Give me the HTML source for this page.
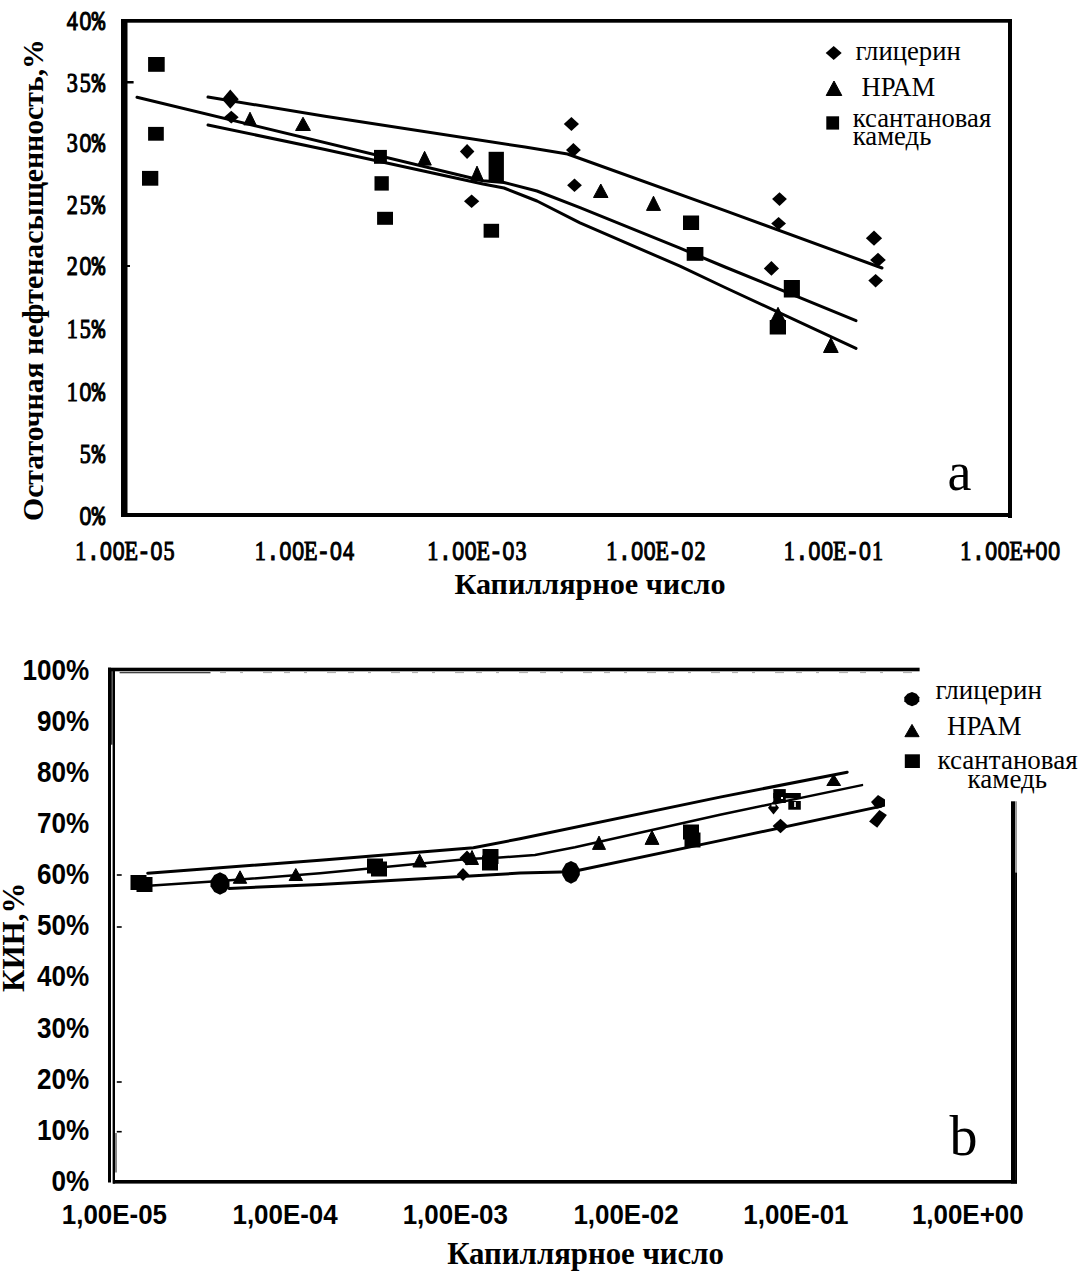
<!DOCTYPE html>
<html><head><meta charset="utf-8"><title>chart</title>
<style>html,body{margin:0;padding:0;background:#fff;} svg{display:block;} text{fill:#000;}</style>
</head><body>
<svg width="1082" height="1279" viewBox="0 0 1082 1279">
<rect width="1082" height="1279" fill="#fff"/>
<rect x="121" y="19" width="6.5" height="497.5" fill="#000"/>
<rect x="121" y="19" width="891" height="3.7" fill="#000"/>
<rect x="1008" y="19" width="4" height="499" fill="#000"/>
<rect x="121" y="513" width="891" height="4" fill="#000"/>
<rect x="127" y="81" width="6.6" height="2.5" fill="#000"/>
<rect x="127" y="265" width="3" height="2" fill="#000"/>
<text transform="translate(72.2,30.2) scale(0.82,1)" font-family="'Liberation Serif', serif" font-weight="normal" font-size="27" text-anchor="middle" stroke="#000" stroke-width="1.1">4</text>
<text transform="translate(85.3,30.2) scale(0.82,1)" font-family="'Liberation Sans', sans-serif" font-weight="normal" font-size="25.9" text-anchor="middle" stroke="#000" stroke-width="1.1">0</text>
<text transform="translate(98.5,30.2) scale(0.82,1)" font-family="'Liberation Mono', monospace" font-weight="normal" font-size="27" text-anchor="middle" stroke="#000" stroke-width="1.1">%</text>
<text transform="translate(72.2,91.5) scale(0.82,1)" font-family="'Liberation Serif', serif" font-weight="normal" font-size="27" text-anchor="middle" stroke="#000" stroke-width="1.1">3</text>
<text transform="translate(85.3,91.5) scale(0.82,1)" font-family="'Liberation Serif', serif" font-weight="normal" font-size="27" text-anchor="middle" stroke="#000" stroke-width="1.1">5</text>
<text transform="translate(98.5,91.5) scale(0.82,1)" font-family="'Liberation Mono', monospace" font-weight="normal" font-size="27" text-anchor="middle" stroke="#000" stroke-width="1.1">%</text>
<text transform="translate(72.2,152.3) scale(0.82,1)" font-family="'Liberation Serif', serif" font-weight="normal" font-size="27" text-anchor="middle" stroke="#000" stroke-width="1.1">3</text>
<text transform="translate(85.3,152.3) scale(0.82,1)" font-family="'Liberation Sans', sans-serif" font-weight="normal" font-size="25.9" text-anchor="middle" stroke="#000" stroke-width="1.1">0</text>
<text transform="translate(98.5,152.3) scale(0.82,1)" font-family="'Liberation Mono', monospace" font-weight="normal" font-size="27" text-anchor="middle" stroke="#000" stroke-width="1.1">%</text>
<text transform="translate(72.2,213.8) scale(0.82,1)" font-family="'Liberation Serif', serif" font-weight="normal" font-size="27" text-anchor="middle" stroke="#000" stroke-width="1.1">2</text>
<text transform="translate(85.3,213.8) scale(0.82,1)" font-family="'Liberation Serif', serif" font-weight="normal" font-size="27" text-anchor="middle" stroke="#000" stroke-width="1.1">5</text>
<text transform="translate(98.5,213.8) scale(0.82,1)" font-family="'Liberation Mono', monospace" font-weight="normal" font-size="27" text-anchor="middle" stroke="#000" stroke-width="1.1">%</text>
<text transform="translate(72.2,275.3) scale(0.82,1)" font-family="'Liberation Serif', serif" font-weight="normal" font-size="27" text-anchor="middle" stroke="#000" stroke-width="1.1">2</text>
<text transform="translate(85.3,275.3) scale(0.82,1)" font-family="'Liberation Sans', sans-serif" font-weight="normal" font-size="25.9" text-anchor="middle" stroke="#000" stroke-width="1.1">0</text>
<text transform="translate(98.5,275.3) scale(0.82,1)" font-family="'Liberation Mono', monospace" font-weight="normal" font-size="27" text-anchor="middle" stroke="#000" stroke-width="1.1">%</text>
<text transform="translate(72.2,337.7) scale(0.82,1)" font-family="'Liberation Serif', serif" font-weight="normal" font-size="27" text-anchor="middle" stroke="#000" stroke-width="1.1">1</text>
<text transform="translate(85.3,337.7) scale(0.82,1)" font-family="'Liberation Serif', serif" font-weight="normal" font-size="27" text-anchor="middle" stroke="#000" stroke-width="1.1">5</text>
<text transform="translate(98.5,337.7) scale(0.82,1)" font-family="'Liberation Mono', monospace" font-weight="normal" font-size="27" text-anchor="middle" stroke="#000" stroke-width="1.1">%</text>
<text transform="translate(72.2,400.5) scale(0.82,1)" font-family="'Liberation Serif', serif" font-weight="normal" font-size="27" text-anchor="middle" stroke="#000" stroke-width="1.1">1</text>
<text transform="translate(85.3,400.5) scale(0.82,1)" font-family="'Liberation Sans', sans-serif" font-weight="normal" font-size="25.9" text-anchor="middle" stroke="#000" stroke-width="1.1">0</text>
<text transform="translate(98.5,400.5) scale(0.82,1)" font-family="'Liberation Mono', monospace" font-weight="normal" font-size="27" text-anchor="middle" stroke="#000" stroke-width="1.1">%</text>
<text transform="translate(85.3,463.3) scale(0.82,1)" font-family="'Liberation Serif', serif" font-weight="normal" font-size="27" text-anchor="middle" stroke="#000" stroke-width="1.1">5</text>
<text transform="translate(98.4,463.3) scale(0.82,1)" font-family="'Liberation Mono', monospace" font-weight="normal" font-size="27" text-anchor="middle" stroke="#000" stroke-width="1.1">%</text>
<text transform="translate(85.3,524.8) scale(0.82,1)" font-family="'Liberation Sans', sans-serif" font-weight="normal" font-size="25.9" text-anchor="middle" stroke="#000" stroke-width="1.1">0</text>
<text transform="translate(98.4,524.8) scale(0.82,1)" font-family="'Liberation Mono', monospace" font-weight="normal" font-size="27" text-anchor="middle" stroke="#000" stroke-width="1.1">%</text>
<text transform="translate(80.8,560) scale(0.82,1)" font-family="'Liberation Serif', serif" font-weight="normal" font-size="27" text-anchor="middle" stroke="#000" stroke-width="1.1">1</text>
<text transform="translate(93.4,560) scale(0.82,1)" font-family="'Liberation Mono', monospace" font-weight="normal" font-size="27" text-anchor="middle" stroke="#000" stroke-width="1.1">.</text>
<text transform="translate(106,560) scale(0.82,1)" font-family="'Liberation Sans', sans-serif" font-weight="normal" font-size="25.9" text-anchor="middle" stroke="#000" stroke-width="1.1">0</text>
<text transform="translate(118.6,560) scale(0.82,1)" font-family="'Liberation Sans', sans-serif" font-weight="normal" font-size="25.9" text-anchor="middle" stroke="#000" stroke-width="1.1">0</text>
<text transform="translate(131.2,560) scale(0.82,1)" font-family="'Liberation Serif', serif" font-weight="normal" font-size="27" text-anchor="middle" stroke="#000" stroke-width="1.1">E</text>
<text transform="translate(143.8,560) scale(0.82,1)" font-family="'Liberation Mono', monospace" font-weight="normal" font-size="27" text-anchor="middle" stroke="#000" stroke-width="1.1">-</text>
<text transform="translate(156.4,560) scale(0.82,1)" font-family="'Liberation Sans', sans-serif" font-weight="normal" font-size="25.9" text-anchor="middle" stroke="#000" stroke-width="1.1">0</text>
<text transform="translate(169,560) scale(0.82,1)" font-family="'Liberation Serif', serif" font-weight="normal" font-size="27" text-anchor="middle" stroke="#000" stroke-width="1.1">5</text>
<text transform="translate(260.3,560) scale(0.82,1)" font-family="'Liberation Serif', serif" font-weight="normal" font-size="27" text-anchor="middle" stroke="#000" stroke-width="1.1">1</text>
<text transform="translate(272.9,560) scale(0.82,1)" font-family="'Liberation Mono', monospace" font-weight="normal" font-size="27" text-anchor="middle" stroke="#000" stroke-width="1.1">.</text>
<text transform="translate(285.5,560) scale(0.82,1)" font-family="'Liberation Sans', sans-serif" font-weight="normal" font-size="25.9" text-anchor="middle" stroke="#000" stroke-width="1.1">0</text>
<text transform="translate(298.1,560) scale(0.82,1)" font-family="'Liberation Sans', sans-serif" font-weight="normal" font-size="25.9" text-anchor="middle" stroke="#000" stroke-width="1.1">0</text>
<text transform="translate(310.7,560) scale(0.82,1)" font-family="'Liberation Serif', serif" font-weight="normal" font-size="27" text-anchor="middle" stroke="#000" stroke-width="1.1">E</text>
<text transform="translate(323.3,560) scale(0.82,1)" font-family="'Liberation Mono', monospace" font-weight="normal" font-size="27" text-anchor="middle" stroke="#000" stroke-width="1.1">-</text>
<text transform="translate(335.9,560) scale(0.82,1)" font-family="'Liberation Sans', sans-serif" font-weight="normal" font-size="25.9" text-anchor="middle" stroke="#000" stroke-width="1.1">0</text>
<text transform="translate(348.5,560) scale(0.82,1)" font-family="'Liberation Serif', serif" font-weight="normal" font-size="27" text-anchor="middle" stroke="#000" stroke-width="1.1">4</text>
<text transform="translate(432.9,560) scale(0.82,1)" font-family="'Liberation Serif', serif" font-weight="normal" font-size="27" text-anchor="middle" stroke="#000" stroke-width="1.1">1</text>
<text transform="translate(445.5,560) scale(0.82,1)" font-family="'Liberation Mono', monospace" font-weight="normal" font-size="27" text-anchor="middle" stroke="#000" stroke-width="1.1">.</text>
<text transform="translate(458.1,560) scale(0.82,1)" font-family="'Liberation Sans', sans-serif" font-weight="normal" font-size="25.9" text-anchor="middle" stroke="#000" stroke-width="1.1">0</text>
<text transform="translate(470.7,560) scale(0.82,1)" font-family="'Liberation Sans', sans-serif" font-weight="normal" font-size="25.9" text-anchor="middle" stroke="#000" stroke-width="1.1">0</text>
<text transform="translate(483.3,560) scale(0.82,1)" font-family="'Liberation Serif', serif" font-weight="normal" font-size="27" text-anchor="middle" stroke="#000" stroke-width="1.1">E</text>
<text transform="translate(495.9,560) scale(0.82,1)" font-family="'Liberation Mono', monospace" font-weight="normal" font-size="27" text-anchor="middle" stroke="#000" stroke-width="1.1">-</text>
<text transform="translate(508.5,560) scale(0.82,1)" font-family="'Liberation Sans', sans-serif" font-weight="normal" font-size="25.9" text-anchor="middle" stroke="#000" stroke-width="1.1">0</text>
<text transform="translate(521.1,560) scale(0.82,1)" font-family="'Liberation Serif', serif" font-weight="normal" font-size="27" text-anchor="middle" stroke="#000" stroke-width="1.1">3</text>
<text transform="translate(611.9,560) scale(0.82,1)" font-family="'Liberation Serif', serif" font-weight="normal" font-size="27" text-anchor="middle" stroke="#000" stroke-width="1.1">1</text>
<text transform="translate(624.5,560) scale(0.82,1)" font-family="'Liberation Mono', monospace" font-weight="normal" font-size="27" text-anchor="middle" stroke="#000" stroke-width="1.1">.</text>
<text transform="translate(637.1,560) scale(0.82,1)" font-family="'Liberation Sans', sans-serif" font-weight="normal" font-size="25.9" text-anchor="middle" stroke="#000" stroke-width="1.1">0</text>
<text transform="translate(649.7,560) scale(0.82,1)" font-family="'Liberation Sans', sans-serif" font-weight="normal" font-size="25.9" text-anchor="middle" stroke="#000" stroke-width="1.1">0</text>
<text transform="translate(662.3,560) scale(0.82,1)" font-family="'Liberation Serif', serif" font-weight="normal" font-size="27" text-anchor="middle" stroke="#000" stroke-width="1.1">E</text>
<text transform="translate(674.9,560) scale(0.82,1)" font-family="'Liberation Mono', monospace" font-weight="normal" font-size="27" text-anchor="middle" stroke="#000" stroke-width="1.1">-</text>
<text transform="translate(687.5,560) scale(0.82,1)" font-family="'Liberation Sans', sans-serif" font-weight="normal" font-size="25.9" text-anchor="middle" stroke="#000" stroke-width="1.1">0</text>
<text transform="translate(700.1,560) scale(0.82,1)" font-family="'Liberation Serif', serif" font-weight="normal" font-size="27" text-anchor="middle" stroke="#000" stroke-width="1.1">2</text>
<text transform="translate(789.3,560) scale(0.82,1)" font-family="'Liberation Serif', serif" font-weight="normal" font-size="27" text-anchor="middle" stroke="#000" stroke-width="1.1">1</text>
<text transform="translate(801.9,560) scale(0.82,1)" font-family="'Liberation Mono', monospace" font-weight="normal" font-size="27" text-anchor="middle" stroke="#000" stroke-width="1.1">.</text>
<text transform="translate(814.5,560) scale(0.82,1)" font-family="'Liberation Sans', sans-serif" font-weight="normal" font-size="25.9" text-anchor="middle" stroke="#000" stroke-width="1.1">0</text>
<text transform="translate(827.1,560) scale(0.82,1)" font-family="'Liberation Sans', sans-serif" font-weight="normal" font-size="25.9" text-anchor="middle" stroke="#000" stroke-width="1.1">0</text>
<text transform="translate(839.7,560) scale(0.82,1)" font-family="'Liberation Serif', serif" font-weight="normal" font-size="27" text-anchor="middle" stroke="#000" stroke-width="1.1">E</text>
<text transform="translate(852.3,560) scale(0.82,1)" font-family="'Liberation Mono', monospace" font-weight="normal" font-size="27" text-anchor="middle" stroke="#000" stroke-width="1.1">-</text>
<text transform="translate(864.9,560) scale(0.82,1)" font-family="'Liberation Sans', sans-serif" font-weight="normal" font-size="25.9" text-anchor="middle" stroke="#000" stroke-width="1.1">0</text>
<text transform="translate(877.5,560) scale(0.82,1)" font-family="'Liberation Serif', serif" font-weight="normal" font-size="27" text-anchor="middle" stroke="#000" stroke-width="1.1">1</text>
<text transform="translate(965.9,560) scale(0.82,1)" font-family="'Liberation Serif', serif" font-weight="normal" font-size="27" text-anchor="middle" stroke="#000" stroke-width="1.1">1</text>
<text transform="translate(978.5,560) scale(0.82,1)" font-family="'Liberation Mono', monospace" font-weight="normal" font-size="27" text-anchor="middle" stroke="#000" stroke-width="1.1">.</text>
<text transform="translate(991.1,560) scale(0.82,1)" font-family="'Liberation Sans', sans-serif" font-weight="normal" font-size="25.9" text-anchor="middle" stroke="#000" stroke-width="1.1">0</text>
<text transform="translate(1003.7,560) scale(0.82,1)" font-family="'Liberation Sans', sans-serif" font-weight="normal" font-size="25.9" text-anchor="middle" stroke="#000" stroke-width="1.1">0</text>
<text transform="translate(1016.3,560) scale(0.82,1)" font-family="'Liberation Serif', serif" font-weight="normal" font-size="27" text-anchor="middle" stroke="#000" stroke-width="1.1">E</text>
<text transform="translate(1028.9,560) scale(0.82,1)" font-family="'Liberation Mono', monospace" font-weight="normal" font-size="27" text-anchor="middle" stroke="#000" stroke-width="1.1">+</text>
<text transform="translate(1041.5,560) scale(0.82,1)" font-family="'Liberation Sans', sans-serif" font-weight="normal" font-size="25.9" text-anchor="middle" stroke="#000" stroke-width="1.1">0</text>
<text transform="translate(1054.1,560) scale(0.82,1)" font-family="'Liberation Sans', sans-serif" font-weight="normal" font-size="25.9" text-anchor="middle" stroke="#000" stroke-width="1.1">0</text>
<text transform="translate(454.4,594.2) scale(1.0,1)" font-family="'Liberation Serif', serif" font-weight="bold" font-size="30.2" text-anchor="start">Капиллярное число</text>
<text transform="translate(43,521) rotate(-90)" font-family="'Liberation Serif', serif" font-weight="bold" font-size="29.75">Остаточная нефтенасыщенность,%</text>
<polygon points="833.7,45.9 841.7,52.9 833.7,59.9 825.7,52.9" fill="#000"/>
<polygon points="834,81 841.8,95.5 826.2,95.5" fill="#000" stroke="#000" stroke-width="1" stroke-linejoin="round"/>
<rect x="826.3" y="116.3" width="12.8" height="13.3" fill="#000"/>
<text transform="translate(855.5,60.4) scale(1.0,1)" font-family="'Liberation Serif', serif" font-weight="normal" font-size="26.7" text-anchor="start">глицерин</text>
<text transform="translate(861.5,96) scale(1.0,1)" font-family="'Liberation Serif', serif" font-weight="normal" font-size="26.7" text-anchor="start">НРАМ</text>
<text transform="translate(852.8,127) scale(1.0,1)" font-family="'Liberation Serif', serif" font-weight="normal" font-size="26.7" text-anchor="start">ксантановая</text>
<text transform="translate(852.8,145) scale(1.0,1)" font-family="'Liberation Serif', serif" font-weight="normal" font-size="26.7" text-anchor="start">камедь</text>
<text transform="translate(947.4,490) scale(1.0,1)" font-family="'Liberation Serif', serif" font-weight="normal" font-size="54" text-anchor="start">a</text>
<polyline points="208,97 325,116.3 525,147.1 567.5,154 725,210.7 882,268" fill="none" stroke="#000" stroke-width="3" stroke-linejoin="round" stroke-linecap="round"/>
<polyline points="137,97.3 483,180.8 504,182.5 537,191 580,207.6 680,248.2 725,267 856,320.6" fill="none" stroke="#000" stroke-width="3" stroke-linejoin="round" stroke-linecap="round"/>
<polyline points="208,125 325,149.5 483,184 504,188 537,201 580,222.8 680,266.2 725,287.5 856,348.4" fill="none" stroke="#000" stroke-width="3" stroke-linejoin="round" stroke-linecap="round"/>
<rect x="148.1" y="57" width="16.6" height="14.8" fill="#000"/>
<rect x="148.1" y="126.9" width="15.7" height="13.8" fill="#000"/>
<rect x="142" y="170.9" width="16.3" height="14.8" fill="#000"/>
<rect x="374" y="149.9" width="12.9" height="13.9" fill="#000"/>
<rect x="374.5" y="176.2" width="14.3" height="14.4" fill="#000"/>
<rect x="377.1" y="211.8" width="15.9" height="13" fill="#000"/>
<rect x="488.6" y="151.8" width="15.3" height="29.5" fill="#000"/>
<rect x="483.6" y="223.8" width="15.5" height="13.9" fill="#000"/>
<rect x="683" y="215.5" width="16.1" height="14.5" fill="#000"/>
<rect x="686.7" y="247" width="16.7" height="13.8" fill="#000"/>
<rect x="783.8" y="280" width="16.1" height="17.5" fill="#000"/>
<rect x="769.7" y="320" width="16.3" height="14.5" fill="#000"/>
<polygon points="230.3,89.5 238.7,99.2 230.3,108.8 222,99.2" fill="#000"/>
<polygon points="231.3,110.8 238.7,117.2 231.3,123.5 223.9,117.2" fill="#000"/>
<polygon points="467.1,144 474.4,151.6 467.1,159.1 459.9,151.6" fill="#000"/>
<polygon points="471.6,194.6 479.3,201.3 471.6,208.1 464,201.3" fill="#000"/>
<polygon points="571.4,117 579,124 571.4,131 563.8,124" fill="#000"/>
<polygon points="573.4,142.9 580.8,149.9 573.4,157 566,149.9" fill="#000"/>
<polygon points="574.5,178.6 581.9,185.3 574.5,192 567.1,185.3" fill="#000"/>
<polygon points="779.5,192.2 786.9,199.1 779.5,206 772.1,199.1" fill="#000"/>
<polygon points="778.6,217.1 786,223.6 778.6,230 771.2,223.6" fill="#000"/>
<polygon points="771.4,261 779,268.4 771.4,275.7 763.8,268.4" fill="#000"/>
<polygon points="874,230.6 882.1,238.2 874,245.8 865.9,238.2" fill="#000"/>
<polygon points="878,252.8 885.8,259.9 878,267 870.1,259.9" fill="#000"/>
<polygon points="875.6,273.9 883,280.6 875.6,287.4 868.3,280.6" fill="#000"/>
<polygon points="250,112.2 256.1,124.9 243.8,124.9" fill="#000" stroke="#000" stroke-width="1" stroke-linejoin="round"/>
<polygon points="303,117.2 310.4,130.5 295.6,130.5" fill="#000" stroke="#000" stroke-width="1" stroke-linejoin="round"/>
<polygon points="424.6,151.3 431.3,165.1 417.9,165.1" fill="#000" stroke="#000" stroke-width="1" stroke-linejoin="round"/>
<polygon points="477,166.1 483.5,180.8 470.5,180.8" fill="#000" stroke="#000" stroke-width="1" stroke-linejoin="round"/>
<polygon points="600.8,184 608,197.5 593.5,197.5" fill="#000" stroke="#000" stroke-width="1" stroke-linejoin="round"/>
<polygon points="653.5,196.2 660.5,210.4 646.5,210.4" fill="#000" stroke="#000" stroke-width="1" stroke-linejoin="round"/>
<polygon points="830.9,337.8 838.2,352.5 823.5,352.5" fill="#000" stroke="#000" stroke-width="1" stroke-linejoin="round"/>
<polygon points="778,307.3 785.2,321.5 770.8,321.5" fill="#000" stroke="#000" stroke-width="1" stroke-linejoin="round"/>
<rect x="108" y="667.7" width="3" height="514.8" fill="#000"/>
<rect x="112.6" y="671" width="2.4" height="512.6" fill="#000"/>
<rect x="111" y="671" width="1.6" height="73.7" fill="#333"/>
<rect x="115" y="1133" width="2" height="39.5" fill="#888"/>
<rect x="108" y="667.7" width="811.6" height="3.6" fill="#000"/>
<rect x="119.6" y="672" width="90.9" height="1.3" fill="#444"/>
<line x1="220" y1="672.6" x2="919" y2="672.6" stroke="#aaa" stroke-width="1" stroke-dasharray="6 14 3 20 9 12"/>
<rect x="113" y="1180" width="904" height="3.6" fill="#000"/>
<rect x="1011" y="801.3" width="4.1" height="382.3" fill="#000"/>
<rect x="1015.1" y="801.3" width="1.9" height="71.2" fill="#999"/>
<rect x="1015.1" y="872.5" width="1.9" height="311.1" fill="#000"/>
<rect x="116.8" y="874.2" width="4.9" height="1.6" fill="#000"/>
<rect x="116.8" y="926.2" width="4.9" height="1.6" fill="#000"/>
<rect x="116.8" y="1081.2" width="4.9" height="1.6" fill="#000"/>
<rect x="116.8" y="1130.9" width="4.9" height="1.6" fill="#000"/>
<text transform="translate(89.2,679.8) scale(0.9,1)" font-family="'Liberation Sans', sans-serif" font-weight="bold" font-size="29" text-anchor="end">100%</text>
<text transform="translate(89.2,730.9) scale(0.9,1)" font-family="'Liberation Sans', sans-serif" font-weight="bold" font-size="29" text-anchor="end">90%</text>
<text transform="translate(89.2,782) scale(0.9,1)" font-family="'Liberation Sans', sans-serif" font-weight="bold" font-size="29" text-anchor="end">80%</text>
<text transform="translate(89.2,833.1) scale(0.9,1)" font-family="'Liberation Sans', sans-serif" font-weight="bold" font-size="29" text-anchor="end">70%</text>
<text transform="translate(89.2,884.2) scale(0.9,1)" font-family="'Liberation Sans', sans-serif" font-weight="bold" font-size="29" text-anchor="end">60%</text>
<text transform="translate(89.2,935.3) scale(0.9,1)" font-family="'Liberation Sans', sans-serif" font-weight="bold" font-size="29" text-anchor="end">50%</text>
<text transform="translate(89.2,986.4) scale(0.9,1)" font-family="'Liberation Sans', sans-serif" font-weight="bold" font-size="29" text-anchor="end">40%</text>
<text transform="translate(89.2,1037.5) scale(0.9,1)" font-family="'Liberation Sans', sans-serif" font-weight="bold" font-size="29" text-anchor="end">30%</text>
<text transform="translate(89.2,1088.6) scale(0.9,1)" font-family="'Liberation Sans', sans-serif" font-weight="bold" font-size="29" text-anchor="end">20%</text>
<text transform="translate(89.2,1139.7) scale(0.9,1)" font-family="'Liberation Sans', sans-serif" font-weight="bold" font-size="29" text-anchor="end">10%</text>
<text transform="translate(89.2,1190.8) scale(0.9,1)" font-family="'Liberation Sans', sans-serif" font-weight="bold" font-size="29" text-anchor="end">0%</text>
<text transform="translate(61.8,1224.3) scale(0.91,1)" font-family="'Liberation Sans', sans-serif" font-weight="bold" font-size="28.5" text-anchor="start">1,00E-05</text>
<text transform="translate(232.5,1224.3) scale(0.91,1)" font-family="'Liberation Sans', sans-serif" font-weight="bold" font-size="28.5" text-anchor="start">1,00E-04</text>
<text transform="translate(402.7,1224.3) scale(0.91,1)" font-family="'Liberation Sans', sans-serif" font-weight="bold" font-size="28.5" text-anchor="start">1,00E-03</text>
<text transform="translate(573.4,1224.3) scale(0.91,1)" font-family="'Liberation Sans', sans-serif" font-weight="bold" font-size="28.5" text-anchor="start">1,00E-02</text>
<text transform="translate(743.3,1224.3) scale(0.91,1)" font-family="'Liberation Sans', sans-serif" font-weight="bold" font-size="28.5" text-anchor="start">1,00E-01</text>
<text transform="translate(911.9,1224.3) scale(0.91,1)" font-family="'Liberation Sans', sans-serif" font-weight="bold" font-size="28.5" text-anchor="start">1,00E+00</text>
<text transform="translate(447.2,1263.8) scale(1.0,1)" font-family="'Liberation Serif', serif" font-weight="bold" font-size="30.8" text-anchor="start">Капиллярное число</text>
<text transform="translate(23.6,992) rotate(-90)" font-family="'Liberation Serif', serif" font-weight="bold" font-size="31">КИН,%</text>
<polygon points="912,692 916.5,693.7 919.3,697.3 919.3,701.3 916.5,704.6 912,706.2 907.5,704.6 904.3,701.3 904.3,697.3 907.5,693.7" fill="#000"/>
<polygon points="912,724.4 919.1,736.7 904.9,736.7" fill="#000" stroke="#000" stroke-width="1" stroke-linejoin="round"/>
<rect x="904.8" y="754.3" width="15.1" height="13.7" fill="#000"/>
<text transform="translate(935.5,698.8) scale(1.0,1)" font-family="'Liberation Serif', serif" font-weight="normal" font-size="27" text-anchor="start">глицерин</text>
<text transform="translate(947,735) scale(1.0,1)" font-family="'Liberation Serif', serif" font-weight="normal" font-size="27" text-anchor="start">НРАМ</text>
<text transform="translate(937.6,768.7) scale(1.0,1)" font-family="'Liberation Serif', serif" font-weight="normal" font-size="27" text-anchor="start">ксантановая</text>
<text transform="translate(967.6,787.6) scale(1.0,1)" font-family="'Liberation Serif', serif" font-weight="normal" font-size="27" text-anchor="start">камедь</text>
<text transform="translate(949.5,1155) scale(1.0,1)" font-family="'Liberation Serif', serif" font-weight="normal" font-size="56" text-anchor="start">b</text>
<polyline points="147.7,873.2 320,860.2 473.4,847.7 520,838.8 720,797.1 847.2,772.2" fill="none" stroke="#000" stroke-width="3" stroke-linejoin="round" stroke-linecap="round"/>
<polyline points="152.3,885.6 220,881 320,873.3 467.9,859.1 500,857.5 535,855 575,847.2 720,814.7 862,785.1" fill="none" stroke="#000" stroke-width="2.5" stroke-linejoin="round" stroke-linecap="round"/>
<polyline points="229,888.4 320,884.4 520,873.1 571.8,871.7 720,840.6 880.8,806.4" fill="none" stroke="#000" stroke-width="3" stroke-linejoin="round" stroke-linecap="round"/>
<rect x="130.5" y="875" width="16" height="15" fill="#000"/>
<rect x="136.5" y="877" width="16" height="15" fill="#000"/>
<rect x="367" y="858.5" width="16" height="15" fill="#000"/>
<rect x="371" y="861.5" width="16" height="15" fill="#000"/>
<rect x="482.5" y="849" width="16" height="15" fill="#000"/>
<rect x="482" y="855.5" width="16" height="15" fill="#000"/>
<rect x="683" y="824.5" width="16" height="15" fill="#000"/>
<rect x="684.5" y="832.5" width="16" height="15" fill="#000"/>
<polygon points="220,872.2 225.7,874.9 229.5,880.8 229.5,886.2 225.7,892.1 220,894.8 214.3,892.1 210.5,886.2 210.5,880.8 214.3,874.9" fill="#000"/>
<polygon points="571,860.9 576.3,863.6 579.8,869.6 579.8,875 576.3,881 571,883.7 565.7,881 562.2,875 562.2,869.6 565.7,863.6" fill="#000"/>
<polygon points="467,850.5 474.5,858 467,865.5 459.5,858" fill="#000"/>
<polygon points="463,868 469.2,874.5 463,881 456.8,874.5" fill="#000"/>
<polygon points="780.5,818.8 788.4,826 780.5,833.2 772.6,826" fill="#000"/>
<polygon points="878,795 885,799.5 885,806.5 876.5,808.8 871,802" fill="#000"/>
<polygon points="879.4,810 886.9,815 877.2,827.7 869.1,821.6" fill="#000"/>
<polygon points="240,870.8 246.7,883.3 233.3,883.3" fill="#000" stroke="#000" stroke-width="1" stroke-linejoin="round"/>
<polygon points="295.8,868.5 302.5,880.5 289.1,880.5" fill="#000" stroke="#000" stroke-width="1" stroke-linejoin="round"/>
<polygon points="419.6,854.1 426.3,867 412.9,867" fill="#000" stroke="#000" stroke-width="1" stroke-linejoin="round"/>
<polygon points="599,836.1 605.5,849.4 592.5,849.4" fill="#000" stroke="#000" stroke-width="1" stroke-linejoin="round"/>
<polygon points="652,830.5 658.9,844.4 645.1,844.4" fill="#000" stroke="#000" stroke-width="1" stroke-linejoin="round"/>
<polygon points="833.7,774.5 840.6,785.5 826.8,785.5" fill="#000" stroke="#000" stroke-width="1" stroke-linejoin="round"/>
<polygon points="472,850.5 478.5,864.5 465.5,864.5" fill="#000" stroke="#000" stroke-width="1" stroke-linejoin="round"/>
<rect x="773.3" y="789.1" width="12.5" height="13.9" fill="#000"/>
<rect x="773.3" y="793" width="27.5" height="5.3" fill="#000"/>
<polygon points="773.5,801 779,807.7 773.5,814.4 768,807.7" fill="#000"/>
<rect x="788.3" y="801" width="12.5" height="8.7" fill="#000"/>
<rect x="781" y="797" width="2" height="2" fill="#fff"/><rect x="771.5" y="804.5" width="4" height="2" fill="#fff"/><rect x="794" y="802" width="2" height="5" fill="#ccc"/>
</svg>
</body></html>
